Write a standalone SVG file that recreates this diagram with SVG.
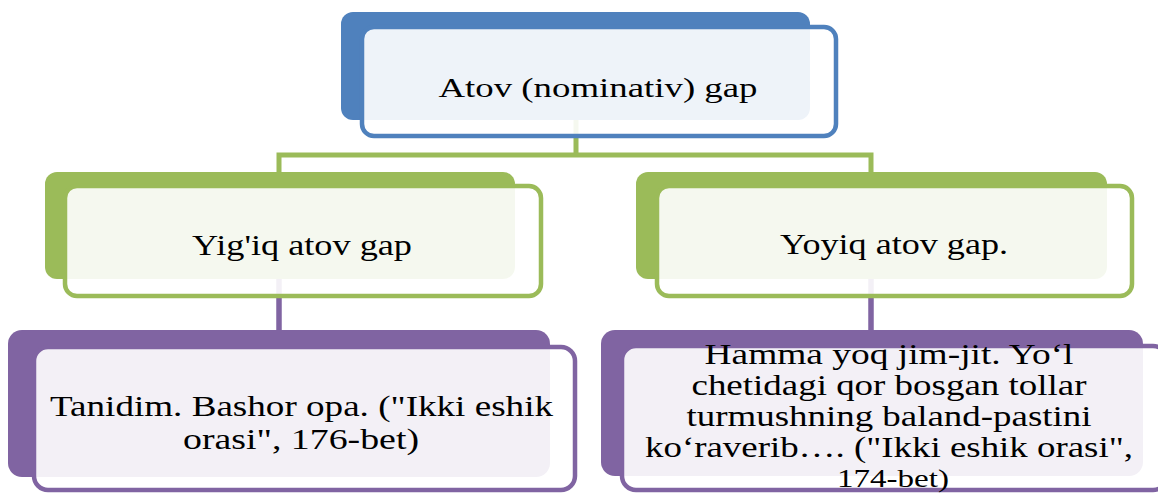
<svg xmlns="http://www.w3.org/2000/svg" width="1158" height="493" viewBox="0 0 1158 493">
<style>
.bg{fill:#fff}
.back-blue{fill:#4F81BD}
.back-green{fill:#9BBB59}
.back-purple{fill:#8064A2}
.front{fill:#fff;fill-opacity:0.9;stroke-width:4.5}
.s-blue{stroke:#4F81BD}
.s-green{stroke:#9BBB59}
.s-purple{stroke:#8064A2}
text{font-family:'Liberation Serif','Times New Roman',serif;fill:#000;text-anchor:middle}
.conn-g{fill:none;stroke:#9BBB59;stroke-width:5}
.conn-p{fill:none;stroke:#8064A2;stroke-width:5.5}
</style>
<rect class="bg" x="0" y="0" width="1158" height="493"/>
<g id="connectors">
  <path class="conn-g" d="M576,120 V155 M279,155 H871 M279,152.5 V172 M871,152.5 V172"/>
  <path class="conn-p" d="M279,279 V330 M871,279 V330"/>
</g>
<g id="node-root">
  <rect class="back-blue" x="341" y="12" width="469" height="108" rx="12"/>
  <rect class="front s-blue" x="362" y="27" width="474" height="109" rx="12"/>
  <text x="598" y="97" font-size="28" textLength="319" lengthAdjust="spacingAndGlyphs">Atov  (nominativ)  gap</text>
</g>
<g id="node-yigiq">
  <rect class="back-green" x="45" y="172" width="470" height="107" rx="12"/>
  <rect class="front s-green" x="65" y="186" width="476" height="110" rx="12"/>
  <text x="302" y="255" font-size="29" textLength="220" lengthAdjust="spacingAndGlyphs">Yig'iq  atov  gap</text>
</g>
<g id="node-yoyiq">
  <rect class="back-green" x="636" y="172" width="471" height="107" rx="12"/>
  <rect class="front s-green" x="657" y="186" width="475" height="110" rx="12"/>
  <text x="894" y="254" font-size="29" textLength="228" lengthAdjust="spacingAndGlyphs">Yoyiq  atov  gap.</text>
</g>
<g id="node-ex1">
  <rect class="back-purple" x="8" y="330" width="542" height="147" rx="14"/>
  <rect class="front s-purple" x="34" y="347" width="541" height="143" rx="14"/>
  <text x="301.5" y="416" font-size="30" textLength="503" lengthAdjust="spacingAndGlyphs">Tanidim. Bashor opa. ("Ikki eshik</text>
  <text x="301" y="449" font-size="30" textLength="236" lengthAdjust="spacingAndGlyphs">orasi",  176-bet)</text>
</g>
<g id="node-ex2">
  <rect class="back-purple" x="601" y="330" width="542" height="146" rx="14"/>
  <rect class="front s-purple" x="622" y="346" width="545" height="144" rx="14"/>
  <text x="889" y="364" font-size="30" textLength="369" lengthAdjust="spacingAndGlyphs">Hamma  yoq jim-jit. Yo‘l</text>
  <text x="889" y="395" font-size="30" textLength="395" lengthAdjust="spacingAndGlyphs">chetidagi  qor bosgan  tollar</text>
  <text x="889" y="426" font-size="30" textLength="405" lengthAdjust="spacingAndGlyphs">turmushning  baland-pastini</text>
  <text x="889" y="457" font-size="30" textLength="488" lengthAdjust="spacingAndGlyphs">ko‘raverib…. ("Ikki eshik orasi",</text>
  <text x="893" y="487" font-size="26" textLength="112" lengthAdjust="spacingAndGlyphs">174-bet)</text>
</g>
</svg>
